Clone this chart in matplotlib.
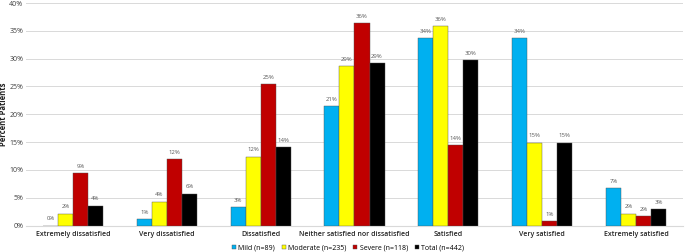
import matplotlib.pyplot as plt
import numpy as np

plt.rcParams['font.family'] = ['Open Sans', 'DejaVu Sans']

categories = ['Extremely dissatisfied', 'Very dissatisfied', 'Dissatisfied',
              'Neither satisfied nor dissatisfied', 'Satisfied', 'Very satisfied',
              'Extremely satisfied']
mild = [0.0, 1.1, 3.3, 21.4, 33.7, 33.7, 6.7]
moderate = [2.1, 4.3, 12.4, 28.6, 35.8, 14.9, 2.1]
severe = [9.4, 11.9, 25.4, 36.4, 14.4, 0.8, 1.7]
total = [3.6, 5.7, 14.1, 29.2, 29.7, 14.9, 2.9]
series_names = ['Mild (n=89)', 'Moderate (n=235)', 'Severe (n=118)', 'Total (n=442)']
colors = ['#00B0F0', '#FFFF00', '#C00000', '#000000']

fig = plt.figure(figsize=(6.85, 2.52), dpi=100)
ax = fig.add_axes([0.038, 0.105, 0.959, 0.883])

x = np.arange(len(categories))
w = 0.16
for i, (vals, name, c) in enumerate(zip([mild, moderate, severe, total], series_names, colors)):
    pos = x + (i - 1.5) * w
    ax.bar(pos, vals, w, color=c, edgecolor='#505050', linewidth=0.3, label=name, zorder=3)
    for p, v in zip(pos, vals):
        ax.text(p, v + 0.8, '%.0f%%' % v, ha='center', va='bottom', fontsize=4.3, color='#595959')

ax.set_xlim(-0.5, len(categories) - 0.5)
ax.set_ylim(0, 40)
ax.set_yticks(np.arange(0, 41, 5))
ax.set_yticklabels(['%d%%' % t for t in np.arange(0, 41, 5)], fontsize=5, color='#404040')
ax.set_xticks(x)
ax.set_xticklabels(categories, fontsize=5, color='#222222', fontweight='semibold')
ax.tick_params(axis='y', length=0, pad=2)
ax.tick_params(axis='x', length=0, pad=4)
ax.grid(axis='y', color='#D9D9D9', linewidth=0.7, zorder=0)
for s in ['top', 'right', 'left']:
    ax.spines[s].set_visible(False)
ax.spines['bottom'].set_color('#D9D9D9')
ax.set_ylabel('Percent Patients', fontsize=5.5, fontweight='bold', color='#222222')
ax.yaxis.set_label_coords(-0.027, 0.5)

ax.legend(loc='center', bbox_to_anchor=(0.49, -0.1), ncol=4, frameon=False,
          fontsize=5, handlelength=0.6, handleheight=0.6, columnspacing=1.0,
          handletextpad=0.3, borderpad=0.1)

fig.savefig('out.png', dpi=100)
